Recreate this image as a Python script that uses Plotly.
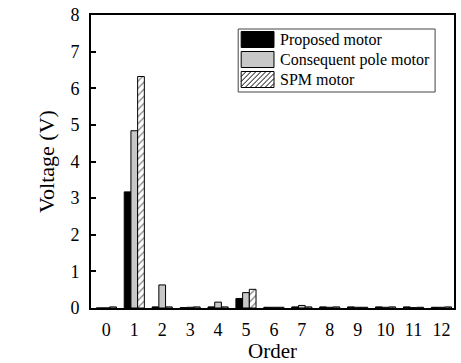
import plotly.graph_objects as go

orders = list(range(0, 13))
tick_labels = [str(o) for o in orders]
series_names = ["Proposed motor", "Consequent pole motor", "SPM motor"]
proposed = [0.0, 3.17, 0.03, 0.01, 0.03, 0.26, 0.02, 0.03, 0.03, 0.03, 0.03, 0.03, 0.02]
consequent = [0.0, 4.84, 0.63, 0.02, 0.16, 0.42, 0.02, 0.07, 0.02, 0.02, 0.02, 0.01, 0.02]
spm = [0.03, 6.32, 0.03, 0.03, 0.03, 0.51, 0.02, 0.03, 0.03, 0.02, 0.03, 0.02, 0.03]

font_family = "Liberation Serif, Times New Roman, serif"
W, H = 461, 363
L, R, T, B = 91, 5, 15, 55
PX0, PX1, PY0, PY1 = L, W - R, T, H - B


def px(x):
    return (x - PX0) / (PX1 - PX0)


def py(y):
    return (PY1 - y) / (PY1 - PY0)


fig = go.Figure()
fig.add_trace(go.Bar(x=orders, y=proposed, name=series_names[0],
                     marker=dict(color="black", line=dict(color="black", width=1))))
fig.add_trace(go.Bar(x=orders, y=consequent, name=series_names[1],
                     marker=dict(color="#c8c8c8", line=dict(color="black", width=1))))
fig.add_trace(go.Bar(x=orders, y=spm, name=series_names[2],
                     marker=dict(color="white", line=dict(color="black", width=1),
                                 pattern=dict(shape="/", fgcolor="black", bgcolor="white",
                                              size=5, solidity=0.25))))

# Manual legend (larger swatches, like the reference)
shapes = []
annotations = []
box = (239, 29, 437, 92)
shapes.append(dict(type="rect", xref="paper", yref="paper",
                   x0=px(box[0]), x1=px(box[2]), y0=py(box[3]), y1=py(box[1]),
                   line=dict(color="#444", width=1), fillcolor="white", layer="above"))
sw_x0, sw_x1 = 242, 275
fills = ["black", "#c8c8c8", "white"]
for i, name in enumerate(series_names):
    top = 31.5 + 20 * i
    bot = top + 16
    shapes.append(dict(type="rect", xref="paper", yref="paper",
                       x0=px(sw_x0), x1=px(sw_x1), y0=py(bot), y1=py(top),
                       line=dict(color="black", width=1), fillcolor=fills[i], layer="above"))
    if i == 2:
        step = 5.0
        s = sw_x0 + top + step
        while s < sw_x1 + bot:
            xs = max(sw_x0, s - bot)
            xe = min(sw_x1, s - top)
            if xe > xs:
                shapes.append(dict(type="line", xref="paper", yref="paper",
                                   x0=px(xs), y0=py(s - xs), x1=px(xe), y1=py(s - xe),
                                   line=dict(color="black", width=1), layer="above"))
            s += step
    annotations.append(dict(text=name, xref="paper", yref="paper",
                            x=px(279), y=py((top + bot) / 2), xanchor="left", yanchor="middle",
                            showarrow=False, font=dict(family=font_family, size=16, color="black")))

fig.update_layout(
    width=W, height=H,
    margin=dict(l=L, r=R, t=T, b=B),
    paper_bgcolor="white", plot_bgcolor="white",
    barmode="group", bargap=0.28, bargroupgap=0,
    font=dict(family=font_family, size=18, color="black"),
    showlegend=False,
    shapes=shapes,
    annotations=annotations,
    xaxis=dict(range=[-0.55, 12.45], tickmode="array", tickvals=orders, ticktext=tick_labels,
               showline=True, linecolor="black", linewidth=2, mirror=True,
               ticks="", showgrid=False, zeroline=False,
               title=dict(text="Order", font=dict(size=21), standoff=0),
               tickfont=dict(size=18), ticklabelstandoff=4),
    yaxis=dict(range=[0, 8], tickmode="linear", tick0=0, dtick=1,
               showline=True, linecolor="black", linewidth=2, mirror=True,
               ticks="inside", ticklen=5, tickwidth=2, tickcolor="black",
               showgrid=False, zeroline=False,
               title=dict(text="Voltage (V)", font=dict(size=22), standoff=10),
               tickfont=dict(size=18), ticklabelstandoff=6),
)

fig.write_html("out.html", config={"displayModeBar": False},
               post_script="document.body.style.margin='0';")
